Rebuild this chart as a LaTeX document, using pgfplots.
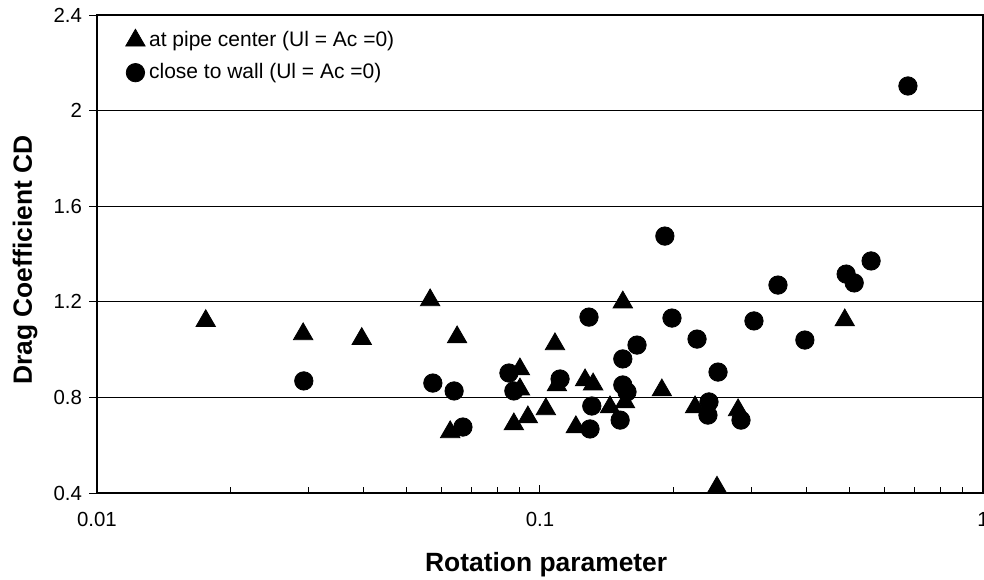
\documentclass[border=0pt]{standalone}
\usepackage{fontspec}
\setmainfont{Liberation Sans}
\usepackage{pgfplots}
\pgfplotsset{compat=1.18}
\begin{document}
\begin{tikzpicture}
\begin{axis}[
  at={(0,0)}, anchor=south west,
  scale only axis, width=443pt, height=239pt,
  xmode=log, xmin=0.01, xmax=1, ymin=0.4, ymax=2.4,
  ytick={0.4,0.8,1.2,1.6,2,2.4},
  yticklabels={0.4,0.8,1.2,1.6,2,2.4},
  xtick={0.01,0.1,1}, xticklabels={0.01,0.1,1},
  ymajorgrids, grid style={black, line width=0.6pt},
  axis line style={black, line width=0.6pt},
  xtick pos=bottom, ytick pos=left,
  xtick align=inside, ytick align=outside,
  major tick length=4pt, minor tick length=3pt,
  tick style={black, line width=0.5pt},
  tick label style={font=\fontsize{10.2}{12}\selectfont},
  xticklabel style={yshift=-6pt},
  /pgf/number format/assume math mode=true,
  xlabel={Rotation parameter}, ylabel={Drag Coefficient CD},
  label style={font=\fontsize{13.2}{15}\selectfont\bfseries},
  xlabel style={at={(axis description cs:0.507,-0.15)}, anchor=center},
  ylabel style={at={(axis description cs:-0.081,0.487)}, anchor=center},
  legend style={at={(axis description cs:0.032,0.975)}, anchor=north west,
    draw=none, fill=none, font=\fontsize{10.5}{12.5}\selectfont,
    row sep=3pt, cells={anchor=west}, inner sep=0pt},
  legend image code/.code={\draw[#1] plot coordinates {(0pt,0pt)};},
]
\addplot[only marks, mark=triangle*, mark size=5.6pt, black] coordinates {
(0.0176,1.12) (0.0292,1.065) (0.0396,1.045) (0.0565,1.207) (0.0650,1.052)
(0.0627,0.655) (0.0901,0.918) (0.0901,0.834) (0.0873,0.688) (0.0939,0.717)
(0.1031,0.751) (0.1081,1.023) (0.1092,0.851) (0.1264,0.872) (0.1318,0.855)
(0.1205,0.676) (0.1538,1.198) (0.1439,0.759) (0.1556,0.780) (0.1884,0.830)
(0.2239,0.759) (0.2800,0.747) (0.2509,0.423) (0.4875,1.123)
};
\addlegendentry{at pipe center (Ul = Ac =0)}
\addplot[only marks, mark=*, mark size=4.6pt, black] coordinates {
(0.0293,0.869) (0.0573,0.860) (0.0640,0.827) (0.0670,0.676) (0.0851,0.902)
(0.0873,0.827) (0.1110,0.877) (0.1290,1.136) (0.1656,1.019) (0.1538,0.961)
(0.1538,0.852) (0.1572,0.823) (0.1309,0.764) (0.1517,0.705) (0.1297,0.668)
(0.1914,1.475) (0.1986,1.132) (0.2262,1.044) (0.2523,0.906) (0.2407,0.781)
(0.2394,0.726) (0.2843,0.705) (0.3041,1.120) (0.3445,1.270) (0.3963,1.040)
(0.4910,1.316) (0.5120,1.279) (0.5590,1.371) (0.6770,2.103)
};
\addlegendentry{close to wall (Ul = Ac =0)}
\end{axis}
\pgfresetboundingbox
\useasboundingbox (-48.5pt,-43pt) rectangle (443.5pt,246.5pt);
\end{tikzpicture}
\end{document}
